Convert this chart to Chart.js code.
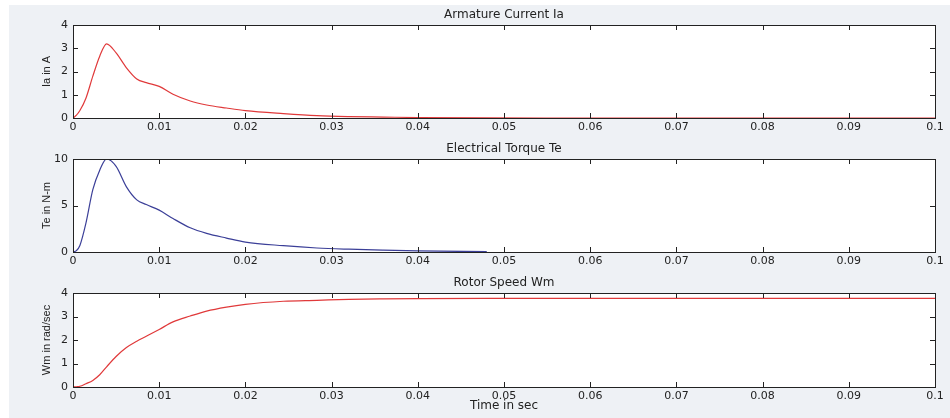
<!DOCTYPE html>
<html>
<head>
<meta charset="utf-8">
<script src="https://cdn.jsdelivr.net/npm/chart.js@4.4.0/dist/chart.umd.min.js"></script>
<style>
  body { margin: 0; background: #fff; }
  #bg { position: absolute; left: 9px; top: 5px; width: 941px; height: 413px; background: #eef1f5; }
  canvas { position: absolute; left: 0; }
</style>
</head>
<body>
<div id="bg"></div>
<canvas id="ia" width="950" height="138" style="top:0px"></canvas>
<canvas id="te" width="950" height="137" style="top:135px"></canvas>
<canvas id="wm" width="950" height="150" style="top:268px"></canvas>
<script>
// simulation samples (seconds)
const timeSec = [0, 0.0004, 0.0008, 0.0015, 0.0023, 0.0031, 0.0039, 0.005, 0.0062, 0.0074, 0.0085, 0.01, 0.0116,
  0.0136, 0.0155, 0.0178, 0.02, 0.0244, 0.0283, 0.032, 0.036, 0.04, 0.048, 0.06, 0.08, 0.1];
const armatureCurrent = [0, 0.12, 0.32, 0.85, 1.8, 2.66, 3.19, 2.8, 2.16, 1.68, 1.52, 1.36, 1.02,
  0.73, 0.56, 0.43, 0.32, 0.19, 0.1, 0.06, 0.04, 0.02, 0.005, 0, 0, 0];
const torque = [0, 0.15, 0.7, 3.1, 6.7, 8.8, 10.0, 9.2, 7.0, 5.6, 5.1, 4.5, 3.6,
  2.6, 2.0, 1.5, 1.07, 0.68, 0.43, 0.3, 0.2, 0.12, 0.03, null, null, null];
const rotorSpeed = [0, 0.01, 0.03, 0.14, 0.28, 0.52, 0.86, 1.3, 1.68, 1.95, 2.16, 2.45, 2.77,
  3.02, 3.23, 3.4, 3.52, 3.65, 3.69, 3.73, 3.75, 3.76, 3.77, 3.77, 3.77, 3.77];

const FONT = 'DejaVu Sans, Verdana, sans-serif';
const NARROW = 'Liberation Sans Narrow, Arial Narrow, sans-serif';
const INK = '#222';

// white axes box, inward tick marks on all four sides and the title above
const matlabAxes = {
  id: 'matlabAxes',
  beforeDraw(chart) {
    const a = chart.chartArea, ctx = chart.ctx;
    ctx.save();
    ctx.fillStyle = '#fff';
    ctx.fillRect(a.left, a.top, a.right - a.left, a.bottom - a.top);
    ctx.restore();
  },
  afterDatasetsDraw(chart, args, opts) {
    const a = chart.chartArea, ctx = chart.ctx;
    const x = chart.scales.x, y = chart.scales.y;
    ctx.save();
    ctx.strokeStyle = INK;
    ctx.lineWidth = 1;
    ctx.beginPath();
    x.ticks.forEach(t => {
      const px = Math.round(x.getPixelForValue(t.value)) + 0.5;
      ctx.moveTo(px, a.bottom); ctx.lineTo(px, a.bottom - 5);
      ctx.moveTo(px, a.top); ctx.lineTo(px, a.top + 5);
    });
    y.ticks.forEach(t => {
      const py = Math.round(y.getPixelForValue(t.value)) + 0.5;
      ctx.moveTo(a.left, py); ctx.lineTo(a.left + 5, py);
      ctx.moveTo(a.right, py); ctx.lineTo(a.right - 5, py);
    });
    ctx.stroke();
    ctx.strokeRect(Math.round(a.left) + 0.5, Math.round(a.top) + 0.5,
      Math.round(a.right - a.left), Math.round(a.bottom - a.top));
    ctx.fillStyle = INK;
    ctx.font = '12px ' + FONT;
    ctx.textAlign = 'center';
    ctx.textBaseline = 'middle';
    ctx.fillText(opts.text, (a.left + a.right) / 2, a.top - 10);
    ctx.restore();
  }
};

function makePlot(id, title, values, color, yMax, yStep, yLabel, top, xTitle) {
  const points = timeSec.map((t, i) => ({ x: t, y: values[i] }));
  new Chart(document.getElementById(id), {
    type: 'line',
    data: {
      datasets: [{
        data: points,
        borderColor: color,
        borderWidth: 1.2,
        pointRadius: 0,
        cubicInterpolationMode: 'monotone',
        spanGaps: false
      }]
    },
    options: {
      responsive: false,
      animation: false,
      layout: { padding: { top: top, right: 15, left: 0, bottom: 0 } },
      plugins: {
        legend: { display: false },
        tooltip: { enabled: false },
        matlabAxes: { text: title }
      },
      scales: {
        x: {
          type: 'linear',
          min: 0,
          max: 0.1,
          grid: { display: false, drawTicks: false },
          border: { display: false },
          ticks: {
            stepSize: 0.01,
            padding: 3,
            color: INK,
            font: { family: FONT, size: 11 },
            maxRotation: 0,
            callback: v => String(Number(v.toFixed(2)))
          },
          title: {
            display: !!xTitle,
            text: xTitle || '',
            color: INK,
            font: { family: FONT, size: 12 },
            padding: { top: 0, bottom: 5 }
          },
          afterFit: s => { s.height = xTitle ? 31 : 20; }
        },
        y: {
          min: 0,
          max: yMax,
          grid: { display: false, drawTicks: false },
          border: { display: false },
          ticks: {
            stepSize: yStep,
            padding: 5,
            color: INK,
            font: { family: FONT, size: 11 }
          },
          title: {
            display: true,
            text: yLabel,
            color: INK,
            font: { family: NARROW, size: 11 },
            padding: { top: 40, bottom: 0 }
          },
          afterFit: s => { s.width = 73; }
        }
      }
    },
    plugins: [matlabAxes]
  });
}

makePlot('ia', 'Armature Current Ia', armatureCurrent, '#e0393a', 4, 1, 'Ia in A', 25);
makePlot('te', 'Electrical Torque Te', torque, '#3b3f98', 10, 5, 'Te in N-m', 24);
makePlot('wm', 'Rotor Speed Wm', rotorSpeed, '#e0393a', 4, 1, 'Wm in rad/sec', 25, 'Time in sec');
</script>
</body>
</html>
